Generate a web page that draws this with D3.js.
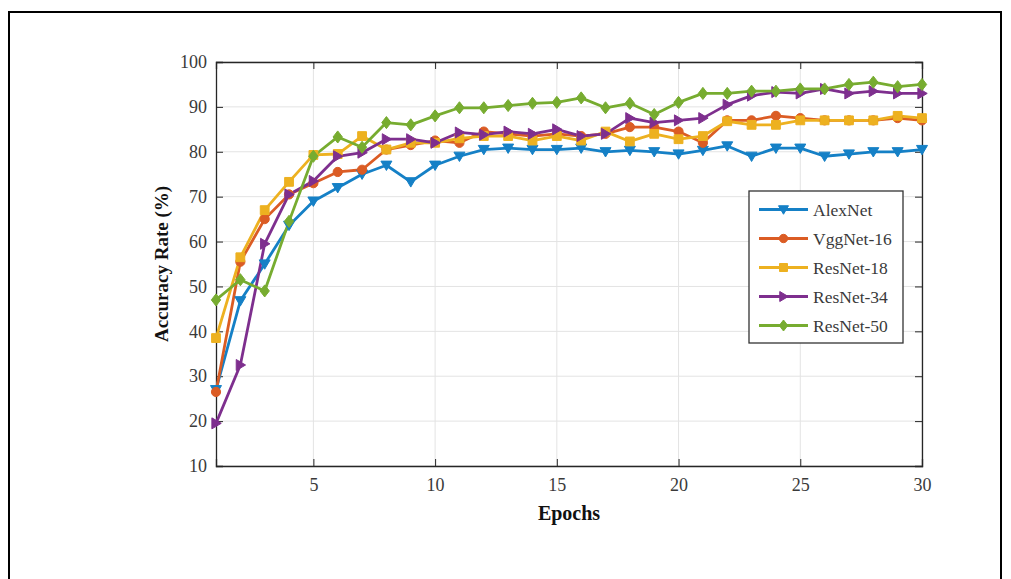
<!DOCTYPE html>
<html>
<head>
<meta charset="utf-8">
<script src="https://cdn.jsdelivr.net/npm/d3@7/dist/d3.min.js"></script>
<style>
  html, body { margin: 0; padding: 0; background: #fff; }
  svg { display: block; }
</style>
</head>
<body>
<svg id="chart" width="1011" height="579"></svg>
<script>
const epochs = d3.range(1, 31);
const xTicks = [5, 10, 15, 20, 25, 30];
const yTicks = [10, 20, 30, 40, 50, 60, 70, 80, 90, 100];

const alexNet = [27, 46.8, 55, 63.6, 69, 72, 75, 77, 73.3, 77, 79, 80.5, 80.8, 80.5, 80.5, 80.8, 80, 80.3, 80, 79.5, 80.3, 81.3, 79, 80.8, 80.8, 79, 79.5, 80, 80, 80.5];
const vggNet16 = [26.5, 55.5, 65, 70.5, 73, 75.5, 76, 80.5, 81.5, 82.5, 82, 84.5, 84, 83.5, 84, 83.5, 84, 85.5, 85.5, 84.5, 82, 87, 87, 88, 87.5, 87, 87, 87, 87.5, 87];
const resNet18 = [38.5, 56.5, 67, 73.3, 79.3, 79.5, 83.5, 80.5, 82, 82, 83, 83.5, 83.5, 82.5, 83.5, 82.5, 84.5, 82.3, 84, 82.8, 83.5, 86.8, 86, 86, 87, 87, 87, 87, 88, 87.5];
const resNet34 = [19.5, 32.5, 59.5, 70.5, 73.5, 79, 79.8, 82.8, 82.8, 82, 84.3, 83.8, 84.5, 84, 85, 83.5, 84, 87.5, 86.5, 87, 87.5, 90.5, 92.5, 93.3, 93, 94, 93, 93.5, 93, 93];
const resNet50 = [47, 51.5, 49, 64.5, 79, 83.3, 81, 86.5, 86, 88, 89.8, 89.8, 90.3, 90.8, 91, 92, 89.8, 90.8, 88.3, 91, 93, 93, 93.5, 93.5, 94, 94, 95, 95.5, 94.5, 95];

const seriesNames = ["AlexNet", "VggNet-16", "ResNet-18", "ResNet-34", "ResNet-50"];
const seriesValues = [alexNet, vggNet16, resNet18, resNet34, resNet50];
const colors = ["#1580C6", "#DB5C24", "#EDB120", "#7E2F8E", "#77AC30"];
const markers = ["tridown", "circle", "square", "triright", "diamond"];

const svg = d3.select("#chart");
const FONT = "'Liberation Serif', 'Times New Roman', serif";

// outer frame
svg.append("rect").attr("x", 9).attr("y", 12).attr("width", 992).attr("height", 580)
  .attr("fill", "none").attr("stroke", "#000").attr("stroke-width", 2);

const L = 216, R = 922, T = 62, B = 466;
const x = d3.scaleLinear().domain([1, 30]).range([L, R]);
const y = d3.scaleLinear().domain([10, 100]).range([B, T]);

// grid
const g = svg.append("g");
g.selectAll(".gx").data(xTicks).enter().append("line")
  .attr("x1", d => x(d)).attr("x2", d => x(d)).attr("y1", T).attr("y2", B)
  .attr("stroke", "#e3e3e3").attr("stroke-width", 1);
g.selectAll(".gy").data(yTicks).enter().append("line")
  .attr("x1", L).attr("x2", R).attr("y1", d => y(d)).attr("y2", d => y(d))
  .attr("stroke", "#e3e3e3").attr("stroke-width", 1);

// axes
const axColor = "#262626";
const xAxis = svg.append("g").attr("transform", `translate(0,${B})`)
  .call(d3.axisBottom(x).tickValues(xTicks).tickSize(-7).tickPadding(12).tickFormat(d3.format("d")));
const xTop = svg.append("g").attr("transform", `translate(0,${T})`)
  .call(d3.axisTop(x).tickValues(xTicks).tickSize(-7).tickFormat(""));
const yAxis = svg.append("g").attr("transform", `translate(${L},0)`)
  .call(d3.axisLeft(y).tickValues(yTicks).tickSize(-7).tickPadding(9).tickFormat(d3.format("d")));
const yRight = svg.append("g").attr("transform", `translate(${R},0)`)
  .call(d3.axisRight(y).tickValues(yTicks).tickSize(-7).tickFormat(""));
[xAxis, xTop, yAxis, yRight].forEach(a => {
  a.attr("font-family", FONT).attr("font-size", 18);
  a.select(".domain").attr("stroke", axColor).attr("stroke-width", 1.3);
  a.selectAll(".tick line").attr("stroke", axColor).attr("stroke-width", 1);
  a.selectAll("text").attr("fill", "#3a3a3a").style("font-family", FONT).style("font-size", "18px");
});

// lines and markers
const line = d3.line().x((d, i) => x(epochs[i])).y(d => y(d));
function markerPath(type, s) {
  const h = s / 2;
  switch (type) {
    case "tridown": return `M${-h},${-h*0.75}L${h},${-h*0.75}L0,${h*0.95}Z`;
    case "triright": return `M${-h*0.75},${-h}L${-h*0.75},${h}L${h*0.95},0Z`;
    case "square": return `M${-h*0.8},${-h*0.8}H${h*0.8}V${h*0.8}H${-h*0.8}Z`;
    case "diamond": return `M0,${-h*1.1}L${h*0.85},0L0,${h*1.1}L${-h*0.85},0Z`;
    case "circle": return d3.symbol().type(d3.symbolCircle).size(s * s * 0.55)();
  }
}
const plot = svg.append("g");
seriesValues.forEach((vals, k) => {
  plot.append("path").datum(vals).attr("d", line)
    .attr("fill", "none").attr("stroke", colors[k]).attr("stroke-width", 2.8)
    .attr("stroke-linejoin", "round");
});
seriesValues.forEach((vals, k) => {
  plot.selectAll(".m" + k).data(vals).enter().append("path")
    .attr("transform", (d, i) => `translate(${x(epochs[i])},${y(d)})`)
    .attr("d", markerPath(markers[k], 11))
    .attr("fill", colors[k]).attr("stroke", colors[k]).attr("stroke-width", 1);
});

// legend
const lg = svg.append("g");
lg.append("rect").attr("x", 749).attr("y", 191).attr("width", 154).attr("height", 152)
  .attr("fill", "#fff").attr("stroke", "#333").attr("stroke-width", 1.3);
seriesNames.forEach((name, k) => {
  const yy = 209.5 + k * 29;
  lg.append("line").attr("x1", 759).attr("x2", 808).attr("y1", yy).attr("y2", yy)
    .attr("stroke", colors[k]).attr("stroke-width", 2.8);
  lg.append("path").attr("transform", `translate(783.5,${yy})`).attr("d", markerPath(markers[k], 10))
    .attr("fill", colors[k]).attr("stroke", colors[k]);
  lg.append("text").attr("x", 813).attr("y", yy + 6).text(name)
    .attr("fill", "#3a3a3a").attr("font-family", FONT).attr("font-size", 17.5);
});

// axis labels
svg.append("text").attr("x", (L + R) / 2).attr("y", 520).attr("text-anchor", "middle")
  .text("Epochs").attr("fill", "#111").attr("font-family", FONT)
  .attr("font-size", 20).attr("font-weight", "bold");
svg.append("text").attr("transform", `translate(168,${(T + B) / 2}) rotate(-90)`)
  .attr("text-anchor", "middle").text("Accuracy Rate (%)")
  .attr("fill", "#111").attr("font-family", FONT)
  .attr("font-size", 19).attr("font-weight", "bold");
</script>
</body>
</html>
